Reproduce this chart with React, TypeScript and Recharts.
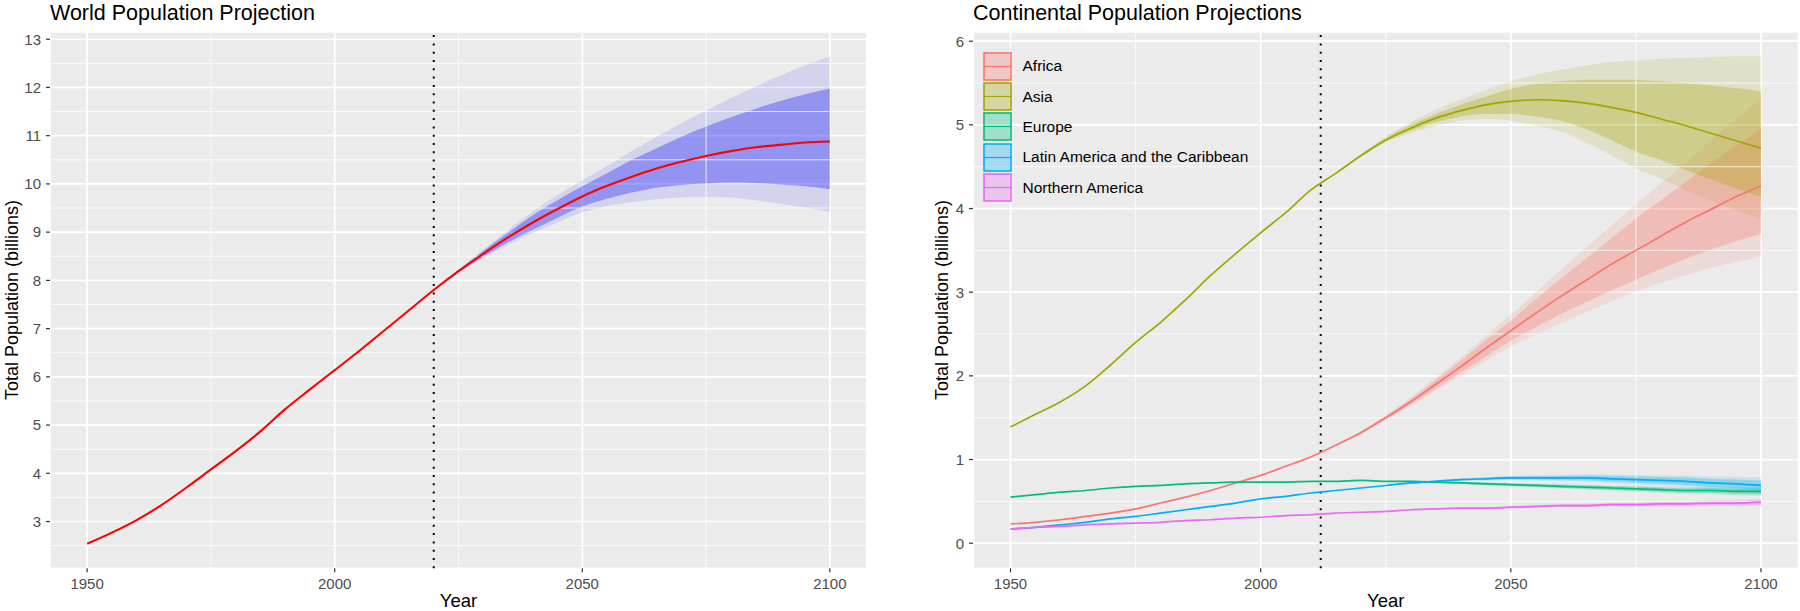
import React from 'react';
import {
  ComposedChart,
  Line,
  Area,
  XAxis,
  YAxis,
  CartesianGrid,
  ReferenceLine,
  Legend,
  Label,
} from 'recharts';

const FONT = '"Liberation Sans", Arial, Helvetica, sans-serif';

// ---------- shared axis data ----------
const YEARS = [
  1950, 1955, 1960, 1965, 1970, 1975, 1980, 1985, 1990, 1995, 2000, 2005, 2010, 2015, 2020, 2025,
  2030, 2035, 2040, 2045, 2050, 2055, 2060, 2065, 2070, 2075, 2080, 2085, 2090, 2095, 2100,
];
const X_TICKS = [1950, 2000, 2050, 2100];
const X_MINOR = [1975, 2025, 2075];

// ---------- world panel ----------
const WORLD_TITLE = 'World Population Projection';
const WORLD_CUTOFF = 2020;
const WORLD_Y_TICKS = [3, 4, 5, 6, 7, 8, 9, 10, 11, 12, 13];
const WORLD_Y_MINOR = [2.5, 3.5, 4.5, 5.5, 6.5, 7.5, 8.5, 9.5, 10.5, 11.5, 12.5];
const WORLD_MEDIAN = [
  2.54, 2.77, 3.03, 3.34, 3.7, 4.08, 4.46, 4.87, 5.33, 5.74, 6.14, 6.54, 6.96, 7.38, 7.8, 8.19,
  8.55, 8.89, 9.2, 9.48, 9.74, 9.96, 10.15, 10.32, 10.46, 10.58, 10.68, 10.76, 10.81, 10.86, 10.88,
];
const WORLD_PROJ_YEARS = [
  2020, 2025, 2030, 2035, 2040, 2045, 2050, 2055, 2060, 2065, 2070, 2075, 2080, 2085, 2090, 2095, 2100,
];
const WORLD_LO80 = [7.8, 8.17, 8.49, 8.79, 9.05, 9.3, 9.53, 9.69, 9.82, 9.92, 9.98, 10.01, 10.03, 10.02, 9.99, 9.95, 9.89];
const WORLD_HI80 = [7.8, 8.21, 8.61, 8.99, 9.35, 9.66, 9.95, 10.22, 10.5, 10.74, 10.98, 11.19, 11.38, 11.56, 11.72, 11.86, 11.98];
const WORLD_LO95 = [7.8, 8.16, 8.46, 8.74, 8.98, 9.2, 9.41, 9.54, 9.62, 9.68, 9.72, 9.73, 9.72, 9.66, 9.59, 9.51, 9.42];
const WORLD_HI95 = [7.8, 8.22, 8.64, 9.04, 9.43, 9.77, 10.07, 10.37, 10.68, 10.98, 11.26, 11.52, 11.78, 12.02, 12.25, 12.46, 12.64];

// ---------- continental panel ----------
const CONT_TITLE = 'Continental Population Projections';
const CONT_CUTOFF = 2012;
const CONT_Y_TICKS = [0, 1, 2, 3, 4, 5, 6];
const CONT_Y_MINOR = [0.5, 1.5, 2.5, 3.5, 4.5, 5.5];
const CONT_NAMES = ['Africa', 'Asia', 'Europe', 'Latin America and the Caribbean', 'Northern America'];
const CONT_COLORS = ['#F8766D', '#A3A500', '#00BF7D', '#00B0F6', '#E76BF3'];

const AFRICA = [
  0.23, 0.25, 0.28, 0.32, 0.36, 0.41, 0.48, 0.55, 0.63, 0.72, 0.81, 0.92, 1.03, 1.17, 1.32, 1.5,
  1.69, 1.9, 2.11, 2.33, 2.54, 2.75, 2.95, 3.14, 3.33, 3.5, 3.67, 3.84, 3.99, 4.14, 4.27,
];
const ASIA = [
  1.39, 1.54, 1.69, 1.88, 2.13, 2.4, 2.64, 2.91, 3.2, 3.46, 3.71, 3.95, 4.22, 4.42, 4.63, 4.82,
  4.96, 5.08, 5.17, 5.24, 5.28, 5.3, 5.29, 5.26, 5.21, 5.15, 5.07, 4.99, 4.9, 4.81, 4.72,
];
const EUROPE = [
  0.55, 0.58, 0.61, 0.63, 0.66, 0.68, 0.69, 0.71, 0.72, 0.73, 0.73, 0.73, 0.74, 0.74, 0.75, 0.74,
  0.74, 0.73, 0.72, 0.71, 0.7, 0.69, 0.68, 0.67, 0.66, 0.65, 0.64, 0.63, 0.63, 0.62, 0.62,
];
const LATAM = [
  0.17, 0.19, 0.22, 0.25, 0.29, 0.32, 0.36, 0.4, 0.44, 0.48, 0.53, 0.56, 0.6, 0.63, 0.66, 0.69,
  0.72, 0.74, 0.76, 0.77, 0.78, 0.78, 0.78, 0.78, 0.77, 0.76, 0.75, 0.74, 0.72, 0.71, 0.69,
];
const NAMERICA = [
  0.17, 0.19, 0.2, 0.22, 0.23, 0.24, 0.25, 0.27, 0.28, 0.3, 0.31, 0.33, 0.34, 0.36, 0.37, 0.38,
  0.4, 0.41, 0.42, 0.42, 0.43, 0.44, 0.45, 0.45, 0.46, 0.46, 0.47, 0.47, 0.48, 0.48, 0.49,
];

const CONT_PROJ_YEARS = [
  2015, 2020, 2025, 2030, 2035, 2040, 2045, 2050, 2055, 2060, 2065, 2070, 2075, 2080, 2085, 2090, 2095, 2100,
];
const AFRICA_LO95 = [1.165, 1.3, 1.47, 1.64, 1.82, 2.0, 2.18, 2.35, 2.49, 2.63, 2.76, 2.89, 3.01, 3.11, 3.21, 3.29, 3.36, 3.43];
const AFRICA_LO80 = [1.167, 1.31, 1.48, 1.66, 1.85, 2.04, 2.23, 2.42, 2.58, 2.74, 2.88, 3.02, 3.15, 3.28, 3.4, 3.51, 3.61, 3.7];
const AFRICA_HI80 = [1.173, 1.33, 1.52, 1.72, 1.95, 2.18, 2.43, 2.66, 2.92, 3.16, 3.4, 3.64, 3.88, 4.1, 4.32, 4.54, 4.75, 4.95];
const AFRICA_HI95 = [1.175, 1.34, 1.53, 1.74, 1.98, 2.22, 2.48, 2.73, 3.0, 3.27, 3.53, 3.79, 4.05, 4.3, 4.55, 4.82, 5.07, 5.32];

const ASIA_LO95 = [4.415, 4.61, 4.79, 4.9, 4.99, 5.05, 5.07, 5.05, 4.99, 4.92, 4.79, 4.64, 4.48, 4.36, 4.22, 4.09, 3.98, 3.88];
const ASIA_LO80 = [4.418, 4.62, 4.8, 4.93, 5.03, 5.1, 5.13, 5.13, 5.1, 5.05, 4.95, 4.82, 4.68, 4.58, 4.46, 4.35, 4.24, 4.14];
const ASIA_HI80 = [4.422, 4.64, 4.84, 5.0, 5.13, 5.24, 5.34, 5.43, 5.49, 5.52, 5.54, 5.54, 5.54, 5.52, 5.5, 5.47, 5.44, 5.4];
const ASIA_HI95 = [4.425, 4.65, 4.86, 5.03, 5.18, 5.3, 5.42, 5.52, 5.6, 5.66, 5.71, 5.75, 5.77, 5.79, 5.8, 5.81, 5.82, 5.82];

const EUROPE_LO95 = [0.74, 0.747, 0.734, 0.731, 0.718, 0.705, 0.692, 0.679, 0.666, 0.653, 0.64, 0.627, 0.614, 0.601, 0.588, 0.584, 0.571, 0.565];
const EUROPE_LO80 = [0.74, 0.748, 0.736, 0.734, 0.722, 0.71, 0.698, 0.686, 0.674, 0.662, 0.65, 0.638, 0.626, 0.614, 0.602, 0.6, 0.588, 0.585];
const EUROPE_HI80 = [0.74, 0.752, 0.744, 0.746, 0.738, 0.73, 0.722, 0.714, 0.706, 0.698, 0.69, 0.682, 0.674, 0.666, 0.658, 0.66, 0.652, 0.655];
const EUROPE_HI95 = [0.74, 0.753, 0.746, 0.749, 0.742, 0.735, 0.728, 0.721, 0.714, 0.707, 0.7, 0.693, 0.686, 0.679, 0.672, 0.676, 0.669, 0.675];

const LATAM_LO95 = [0.63, 0.657, 0.684, 0.711, 0.728, 0.745, 0.75, 0.755, 0.749, 0.743, 0.737, 0.72, 0.704, 0.688, 0.672, 0.646, 0.625, 0.595];
const LATAM_LO80 = [0.63, 0.658, 0.686, 0.714, 0.732, 0.75, 0.757, 0.764, 0.76, 0.756, 0.752, 0.738, 0.724, 0.71, 0.696, 0.672, 0.658, 0.635];
const LATAM_HI80 = [0.63, 0.662, 0.694, 0.726, 0.748, 0.77, 0.783, 0.796, 0.8, 0.804, 0.808, 0.802, 0.796, 0.79, 0.784, 0.768, 0.762, 0.75];
const LATAM_HI95 = [0.63, 0.663, 0.696, 0.729, 0.752, 0.775, 0.79, 0.805, 0.811, 0.817, 0.823, 0.82, 0.816, 0.812, 0.808, 0.798, 0.795, 0.79];

const NAM_LO95 = [0.36, 0.368, 0.376, 0.395, 0.403, 0.411, 0.409, 0.415, 0.422, 0.429, 0.426, 0.433, 0.43, 0.437, 0.434, 0.441, 0.438, 0.445];
const NAM_LO80 = [0.36, 0.369, 0.378, 0.397, 0.406, 0.415, 0.414, 0.422, 0.43, 0.438, 0.436, 0.444, 0.442, 0.45, 0.448, 0.456, 0.454, 0.462];
const NAM_HI80 = [0.36, 0.371, 0.382, 0.403, 0.414, 0.425, 0.426, 0.438, 0.45, 0.462, 0.464, 0.476, 0.478, 0.49, 0.492, 0.504, 0.506, 0.518];
const NAM_HI95 = [0.36, 0.372, 0.384, 0.405, 0.417, 0.429, 0.431, 0.445, 0.458, 0.471, 0.474, 0.487, 0.49, 0.503, 0.506, 0.519, 0.522, 0.535];

const CONT_MEDIANS = [AFRICA, ASIA, EUROPE, LATAM, NAMERICA];
const CONT_BANDS = [
  [AFRICA_LO80, AFRICA_HI80, AFRICA_LO95, AFRICA_HI95],
  [ASIA_LO80, ASIA_HI80, ASIA_LO95, ASIA_HI95],
  [EUROPE_LO80, EUROPE_HI80, EUROPE_LO95, EUROPE_HI95],
  [LATAM_LO80, LATAM_HI80, LATAM_LO95, LATAM_HI95],
  [NAM_LO80, NAM_HI80, NAM_LO95, NAM_HI95],
];

// ---------- tables ----------
const worldRows: any[] = YEARS.map((year, i) => ({ year, median: WORLD_MEDIAN[i] }));
WORLD_PROJ_YEARS.forEach((year, j) => {
  const row = worldRows.find((r) => r.year === year);
  row.b80 = [WORLD_LO80[j], WORLD_HI80[j]];
  row.b95 = [WORLD_LO95[j], WORLD_HI95[j]];
});

const contRows: any[] = YEARS.map((year, i) => {
  const row: any = { year };
  CONT_MEDIANS.forEach((arr, k) => {
    row['m' + k] = arr[i];
  });
  return row;
});
CONT_PROJ_YEARS.forEach((year, j) => {
  const row = contRows.find((r) => r.year === year);
  CONT_BANDS.forEach((b, k) => {
    row['b80_' + k] = [b[0][j], b[1][j]];
    row['b95_' + k] = [b[2][j], b[3][j]];
  });
});

// ---------- styling helpers ----------
const TICK_STYLE = { fill: '#4D4D4D', fontSize: 15, fontFamily: FONT };
const PANEL_BG = '#EBEBEB';

const ContLegend = () => (
  <div style={{ fontFamily: FONT, fontSize: 15.5, color: '#000' }}>
    {CONT_NAMES.map((name, k) => (
      <div key={name} style={{ display: 'flex', alignItems: 'center', height: 30.4 }}>
        <svg width={29} height={29} style={{ display: 'block' }}>
          <rect x={1} y={1} width={27} height={27} fill={CONT_COLORS[k]} fillOpacity={0.3} stroke={CONT_COLORS[k]} strokeWidth={1.6} />
          <line x1={1} x2={28} y1={14.5} y2={14.5} stroke={CONT_COLORS[k]} strokeWidth={1.2} />
        </svg>
        <span style={{ marginLeft: 10.5, whiteSpace: 'nowrap' }}>{name}</span>
      </div>
    ))}
  </div>
);

const titleLabel = (text: string, x: number) => () => (
  <text x={x} y={20} fontSize={21.5} fontFamily={FONT} fill="#000">
    {text}
  </text>
);

const yTitle = (x: number) => () => (
  <text
    x={x}
    y={300}
    transform={`rotate(-90, ${x}, 300)`}
    textAnchor="middle"
    fontSize={18}
    fontFamily={FONT}
    fill="#000"
  >
    Total Population (billions)
  </text>
);

const xTitle = (cx: number) => () => (
  <text x={cx} y={607} textAnchor="middle" fontSize={18.5} fontFamily={FONT} fill="#000">
    Year
  </text>
);

function WorldChart() {
  return (
    <ComposedChart
      width={900}
      height={611}
      data={worldRows}
      margin={{ top: 32, right: 33, bottom: 0, left: 0 }}
    >
      <CartesianGrid fill={PANEL_BG} stroke="#FFFFFF" strokeWidth={1.7} />
      {X_MINOR.map((v) => (
        <ReferenceLine key={'xm' + v} x={v} stroke="#FFFFFF" strokeWidth={0.8} />
      ))}
      {WORLD_Y_MINOR.map((v) => (
        <ReferenceLine key={'ym' + v} y={v} stroke="#FFFFFF" strokeWidth={0.8} />
      ))}
      <XAxis
        type="number"
        dataKey="year"
        domain={[1942.5, 2107.5]}
        ticks={X_TICKS}
        interval={0}
        allowDataOverflow
        axisLine={false}
        tickLine={{ stroke: '#333333', strokeWidth: 1.2 }}
        tickSize={4}
        tickMargin={6}
        tick={TICK_STYLE}
        height={42.7}
      >
        <Label content={xTitle(458.5)} />
      </XAxis>
      <YAxis
        type="number"
        domain={[2.03, 13.15]}
        ticks={WORLD_Y_TICKS}
        interval={0}
        allowDataOverflow
        axisLine={false}
        tickLine={{ stroke: '#333333', strokeWidth: 1.2 }}
        tickSize={4}
        tickMargin={5}
        tick={TICK_STYLE}
        width={50}
      >
        <Label content={yTitle(18)} />
        <Label content={titleLabel(WORLD_TITLE, 50)} />
      </YAxis>
      <Area
        type="monotone"
        dataKey="b95"
        stroke="none"
        fill="#0000FF"
        fillOpacity={0.1}
        isAnimationActive={false}
        dot={false}
        activeDot={false}
      />
      <Area
        type="monotone"
        dataKey="b80"
        stroke="none"
        fill="#0000FF"
        fillOpacity={0.3}
        isAnimationActive={false}
        dot={false}
        activeDot={false}
      />
      <ReferenceLine x={WORLD_CUTOFF} stroke="#000000" strokeWidth={2} strokeDasharray="2 6.3" />
      <Line
        type="monotone"
        dataKey="median"
        stroke="#FF0000"
        strokeWidth={2.1}
        dot={false}
        activeDot={false}
        isAnimationActive={false}
      />
    </ComposedChart>
  );
}

function ContChart() {
  return (
    <ComposedChart
      width={900}
      height={611}
      data={contRows}
      margin={{ top: 32, right: 1.5, bottom: 0, left: 0 }}
    >
      <CartesianGrid fill={PANEL_BG} stroke="#FFFFFF" strokeWidth={1.7} />
      {X_MINOR.map((v) => (
        <ReferenceLine key={'xm' + v} x={v} stroke="#FFFFFF" strokeWidth={0.8} />
      ))}
      {CONT_Y_MINOR.map((v) => (
        <ReferenceLine key={'ym' + v} y={v} stroke="#FFFFFF" strokeWidth={0.8} />
      ))}
      <XAxis
        type="number"
        dataKey="year"
        domain={[1942.5, 2107.5]}
        ticks={X_TICKS}
        interval={0}
        allowDataOverflow
        axisLine={false}
        tickLine={{ stroke: '#333333', strokeWidth: 1.2 }}
        tickSize={4}
        tickMargin={6}
        tick={TICK_STYLE}
        height={42.7}
      >
        <Label content={xTitle(485.7)} />
      </XAxis>
      <YAxis
        type="number"
        domain={[-0.3, 6.11]}
        ticks={CONT_Y_TICKS}
        interval={0}
        allowDataOverflow
        axisLine={false}
        tickLine={{ stroke: '#333333', strokeWidth: 1.2 }}
        tickSize={4}
        tickMargin={5}
        tick={TICK_STYLE}
        width={73}
      >
        <Label content={yTitle(48)} />
        <Label content={titleLabel(CONT_TITLE, 73)} />
      </YAxis>
      {CONT_NAMES.map((name, k) => (
        <Area
          key={'a95' + k}
          type="monotone"
          dataKey={'b95_' + k}
          name={name + ' 95%'}
          stroke="none"
          fill={CONT_COLORS[k]}
          fillOpacity={0.14}
          isAnimationActive={false}
          dot={false}
          activeDot={false}
          legendType="none"
        />
      ))}
      {CONT_NAMES.map((name, k) => (
        <Area
          key={'a80' + k}
          type="monotone"
          dataKey={'b80_' + k}
          name={name + ' 80%'}
          stroke="none"
          fill={CONT_COLORS[k]}
          fillOpacity={0.3}
          isAnimationActive={false}
          dot={false}
          activeDot={false}
          legendType="none"
        />
      ))}
      <ReferenceLine x={CONT_CUTOFF} stroke="#000000" strokeWidth={2} strokeDasharray="2 6.3" />
      {CONT_NAMES.map((name, k) => (
        <Line
          key={'l' + k}
          type="monotone"
          dataKey={'m' + k}
          name={name}
          stroke={CONT_COLORS[k]}
          strokeWidth={1.7}
          dot={false}
          activeDot={false}
          isAnimationActive={false}
        />
      ))}
      <Legend
        layout="horizontal"
        verticalAlign="middle"
        align="center"
        content={<ContLegend />}
        wrapperStyle={{ left: 83, top: 51, width: 330, height: 155, bottom: 'auto', right: 'auto' }}
      />
    </ComposedChart>
  );
}

export default function App() {
  return (
    <div
      style={{
        position: 'absolute',
        left: 0,
        top: 0,
        width: 1800,
        height: 611,
        background: '#FFFFFF',
        overflow: 'hidden',
      }}
    >
      <div style={{ position: 'absolute', left: 0, top: 0 }}>
        <WorldChart />
      </div>
      <div style={{ position: 'absolute', left: 900, top: 0 }}>
        <ContChart />
      </div>
    </div>
  );
}
